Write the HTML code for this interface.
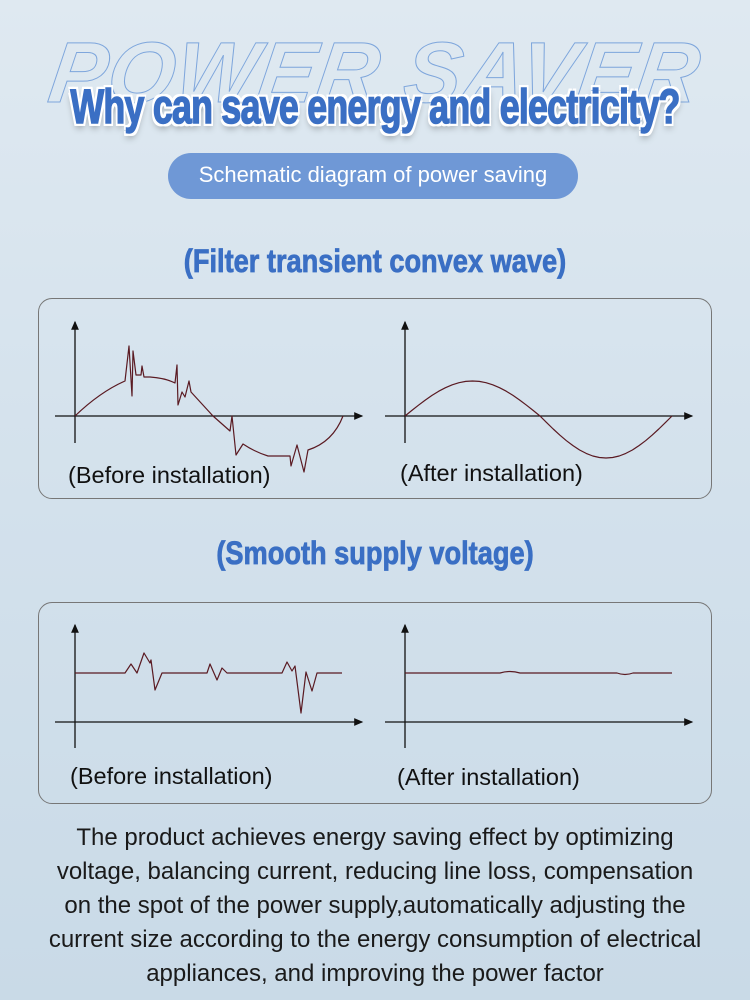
<!DOCTYPE html>
<html><head><meta charset="utf-8"><style>
body{margin:0;width:750px;height:1000px;overflow:hidden;background:linear-gradient(180deg,#dfe9f1 0%,#d3e1ec 50%,#c9dae7 100%);font-family:"Liberation Sans",sans-serif;position:relative}
.abs{position:absolute}
.bg{left:-10px;width:770px;text-align:center;top:24px;font-size:86px;font-weight:bold;font-style:italic;color:transparent;-webkit-text-stroke:1px #7ea6dc;letter-spacing:1px;transform:skewX(-8deg)}
.title{left:-50px;width:850px;text-align:center;top:80px;font-size:48px;font-weight:bold;color:#3a6fc4;-webkit-text-stroke:1.5px #3a6fc4;text-shadow:0 0 3px #fff,3px 3px 0 #fff,-3px -3px 0 #fff,3px -3px 0 #fff,-3px 3px 0 #fff,0 5px 8px rgba(0,0,0,.35);transform:scaleX(.745);letter-spacing:-1px}
.pill{left:168px;top:153px;width:410px;height:46px;border-radius:23px;background:#6f98d6;color:#fff;font-size:22px;text-align:center;line-height:44px}
.h{left:-30px;width:810px;text-align:center;font-size:32px;font-weight:bold;color:#3a6fc4;-webkit-text-stroke:0.8px #3a6fc4;transform:scaleX(.85)}
.panel{left:38px;width:672px;border:1.5px solid #777;border-radius:14px}
.lbl{font-size:23.5px;color:#111}
.para{left:0;width:750px;text-align:center;top:821px;font-size:24px;line-height:34px;color:#1a1a1a}
</style></head><body>
<div class="abs bg">POWER SAVER</div>
<div class="abs title">Why can save energy and electricity?</div>
<div class="abs pill">Schematic diagram of power saving</div>
<div class="abs h" style="top:243px">(Filter transient convex wave)</div>
<div class="abs h" style="top:535px">(Smooth supply voltage)</div>
<div class="abs panel" style="top:298px;height:199px"></div>
<div class="abs panel" style="top:602px;height:200px"></div>
<svg class="abs" style="left:0;top:0" width="750" height="1000">
<defs><marker id="a" markerWidth="8" markerHeight="8" refX="6" refY="4" orient="auto"><path d="M0,1 L7,4 L0,7Z" fill="#111"/></marker></defs>
<g stroke="#111" stroke-width="1.3" fill="none">
<line x1="75" y1="443" x2="75" y2="322" marker-end="url(#a)"/>
<line x1="55" y1="416" x2="362" y2="416" marker-end="url(#a)"/>
<line x1="405" y1="443" x2="405" y2="322" marker-end="url(#a)"/>
<line x1="385" y1="416" x2="692" y2="416" marker-end="url(#a)"/>
<line x1="75" y1="748" x2="75" y2="625" marker-end="url(#a)"/>
<line x1="55" y1="722" x2="362" y2="722" marker-end="url(#a)"/>
<line x1="405" y1="748" x2="405" y2="625" marker-end="url(#a)"/>
<line x1="385" y1="722" x2="692" y2="722" marker-end="url(#a)"/>
</g>
<g stroke="#5a1a22" stroke-width="1.2" fill="none" stroke-linejoin="round">
<path d="M75,416 Q100,392 125,381 L129,346 L132,396 L133,351 L136,375 L141,375 L142,366 L144,377 L150,377 Q165,378 175,383 L177,365 L178,405 L182,392 L185,397 L189,381 L191,392 L213,416 L230,431 L232,416 L236,455 L243,444 Q255,452 268,456 L290,456 L291,466 L297,445 L304,472 L308,450 Q333,442 343,416"/>
<polyline points="405,416 411.75,410.5 418.5,405.2 425.25,400.1 432,395.4 438.75,391.2 445.5,387.7 452.25,384.8 459,382.7 465.75,381.4 472.5,381 479.25,381.4 486,382.7 492.75,384.8 499.5,387.7 506.25,391.2 513,395.4 519.75,400.1 526.5,405.2 533.25,410.5 540,416 546.6,422.6 553.2,429 559.8,435.1 566.4,440.7 573,445.6 579.6,450 586.2,453.4 592.8,456 599.4,457.5 606,458 612.6,457.5 619.2,456 625.8,453.4 632.4,450 639,445.6 645.6,440.7 652.2,435.1 658.8,429 665.4,422.6 672,416"/>
<path d="M75,673 L125,673 L131,664 L137,673 L144,653 L150,663 L151,660 L155,690 L162,673 L207,673 L210,664 L217,680 L222,668 L227,673 L282,673 L287,662 L292,671 L295,666 L301,713 L306,672 L312,691 L317,673 L342,673"/>
<path d="M405,673 L500,673 Q510,670 520,673 L617,673 Q625,676 633,673 L672,673"/>
</g>
</svg>
<div class="abs lbl" style="left:68px;top:462px">(Before installation)</div>
<div class="abs lbl" style="left:400px;top:460px">(After installation)</div>
<div class="abs lbl" style="left:70px;top:763px">(Before installation)</div>
<div class="abs lbl" style="left:397px;top:764px">(After installation)</div>
<div class="abs para">The product achieves energy saving effect by optimizing<br>voltage, balancing current, reducing line loss, compensation<br>on the spot of the power supply,automatically adjusting the<br>current size according to the energy consumption of electrical<br>appliances, and improving the power factor</div>
</body></html>
